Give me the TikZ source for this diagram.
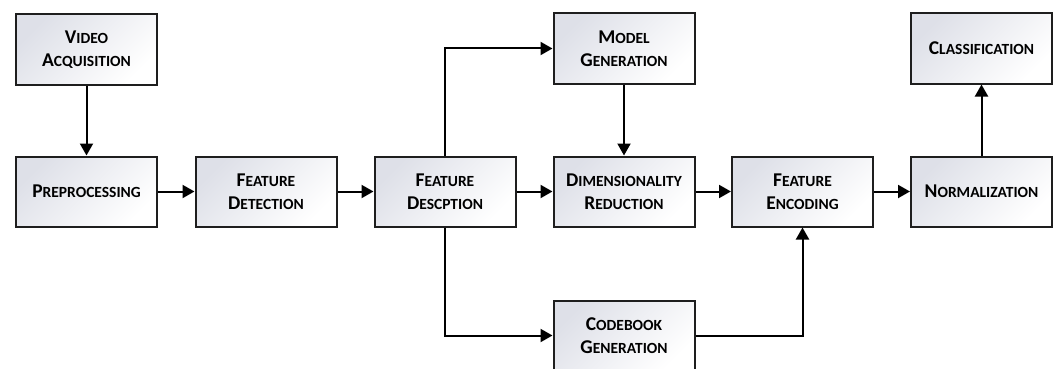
\documentclass[tikz,border=0pt]{standalone}
\usepackage{fontspec}
\setmainfont{Carlito}
\usetikzlibrary{arrows.meta}
\definecolor{boxtint}{RGB}{222,224,232}
\definecolor{boxedge}{RGB}{30,30,30}
% fake small caps: big initial, smaller capitals after it
\newcommand\capw[2]{{\fontsize{19.5}{23}\selectfont #1}{\fontsize{15.5}{23}\selectfont #2}}
\tikzset{
  block/.style={draw=boxedge, line width=2pt, rectangle,
    minimum width=141pt, minimum height=70pt, inner sep=0pt,
    top color=boxtint, bottom color=white, shading angle=45,
    align=center, font=\bfseries\fontsize{15.5}{23}\selectfont},
  arr/.style={line width=2pt, -{Triangle[length=12pt,width=13pt]}}
}
\begin{document}
\begin{tikzpicture}[x=1pt,y=-1pt]
\useasboundingbox (0,0) rectangle (1057,369);
\clip (0,0) rectangle (1057,369);
\node[block] (va)    at (86.5,49.5)  {\capw{V}{IDEO}\\\capw{A}{CQUISITION}};
\node[block] (pre)   at (86.5,191.5) {\capw{P}{REPROCESSING}};
\node[block] (fdet)  at (266,191.5)  {\capw{F}{EATURE}\\\capw{D}{ETECTION}};
\node[block] (fdesc) at (445,191.5)  {\capw{F}{EATURE}\\\capw{D}{ESCPTION}};
\node[block] (mg)    at (624,48.5)   {\capw{M}{ODEL}\\\capw{G}{ENERATION}};
\node[block] (dr)    at (624,191.5)  {\capw{D}{IMENSIONALITY}\\\capw{R}{EDUCTION}};
\node[block] (fe)    at (802.5,191.5){\capw{F}{EATURE}\\\capw{E}{NCODING}};
\node[block] (norm)  at (981.5,191.5){\capw{N}{ORMALIZATION}};
\node[block] (cls)   at (981.5,48.5) {\capw{C}{LASSIFICATION}};
\node[block] (cb)    at (624,335.5)  {\capw{C}{ODEBOOK}\\\capw{G}{ENERATION}};
\draw[arr] (va) -- (pre);
\draw[arr] (pre) -- (fdet);
\draw[arr] (fdet) -- (fdesc);
\draw[arr] (fdesc) -- (dr);
\draw[arr] (dr) -- (fe);
\draw[arr] (fe) -- (norm);
\draw[arr] (mg) -- (dr);
\draw[arr] (norm) -- (cls);
\draw[arr] (fdesc.north) |- (mg.west);
\draw[arr] (fdesc.south) |- (cb.west);
\draw[arr] (cb.east) -| (fe.south);
\end{tikzpicture}
\end{document}
